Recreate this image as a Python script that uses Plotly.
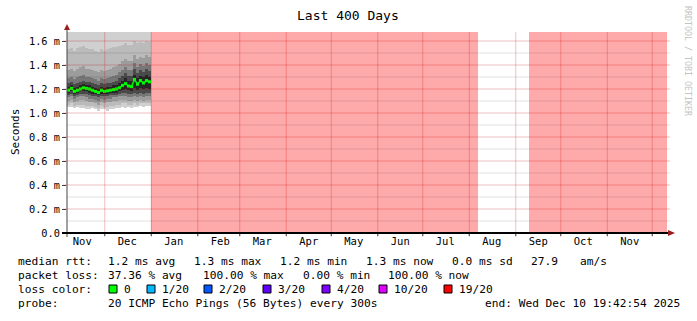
import pandas as pd
import plotly.graph_objects as go

# ---------------- data ----------------
start = pd.Timestamp("2024-11-05 19:42:54")
end = pd.Timestamp("2025-12-10 19:42:54")
y_top = 1.675

# smoke columns: 2-day steps from start (values in ms)
median = [1.19, 1.205, 1.18, 1.19, 1.20, 1.21, 1.205, 1.20, 1.19, 1.18, 1.17, 1.19, 1.18, 1.185,
          1.19, 1.195, 1.20, 1.21, 1.23, 1.245, 1.225, 1.22, 1.28, 1.24, 1.27, 1.25, 1.27, 1.26]
low0 = [1.05, 1.05, 1.04, 1.05, 1.04, 1.04, 1.03, 1.03, 1.04, 1.03, 1.02, 1.03, 1.03, 1.02,
        1.03, 1.03, 1.04, 1.04, 1.05, 1.04, 1.05, 1.04, 1.05, 1.05, 1.06, 1.05, 1.06, 1.06]
high0 = [1.70, 1.70, 1.70, 1.70, 1.70, 1.70, 1.70, 1.70, 1.70, 1.70, 1.70, 1.70, 1.70, 1.70,
         1.70, 1.70, 1.70, 1.70, 1.70, 1.70, 1.70, 1.70, 1.70, 1.70, 1.70, 1.70, 1.70, 1.70]
low1 = [1.07, 1.08, 1.06, 1.07, 1.07, 1.07, 1.06, 1.06, 1.06, 1.05, 1.04, 1.06, 1.05, 1.05,
        1.06, 1.06, 1.07, 1.07, 1.08, 1.08, 1.07, 1.07, 1.08, 1.07, 1.08, 1.08, 1.08, 1.08]
high1 = [1.53, 1.54, 1.52, 1.54, 1.55, 1.56, 1.54, 1.53, 1.53, 1.52, 1.51, 1.53, 1.52, 1.53,
         1.54, 1.55, 1.55, 1.56, 1.57, 1.58, 1.57, 1.57, 1.60, 1.58, 1.59, 1.58, 1.60, 1.59]
low2 = [1.10, 1.11, 1.09, 1.10, 1.11, 1.11, 1.10, 1.09, 1.09, 1.08, 1.07, 1.09, 1.08, 1.09,
        1.09, 1.10, 1.10, 1.11, 1.11, 1.11, 1.10, 1.10, 1.11, 1.10, 1.11, 1.10, 1.11, 1.11]
high2 = [1.36, 1.37, 1.35, 1.37, 1.38, 1.39, 1.37, 1.37, 1.36, 1.35, 1.34, 1.36, 1.35, 1.36,
         1.37, 1.38, 1.39, 1.41, 1.43, 1.45, 1.43, 1.43, 1.48, 1.45, 1.47, 1.46, 1.48, 1.47]
low3 = [1.13, 1.14, 1.12, 1.13, 1.14, 1.14, 1.13, 1.12, 1.12, 1.11, 1.10, 1.12, 1.11, 1.12,
        1.12, 1.13, 1.13, 1.14, 1.14, 1.14, 1.13, 1.13, 1.14, 1.13, 1.14, 1.13, 1.14, 1.14]
high3 = [1.29, 1.30, 1.28, 1.30, 1.31, 1.32, 1.30, 1.30, 1.29, 1.28, 1.27, 1.29, 1.28, 1.29,
         1.30, 1.31, 1.32, 1.34, 1.36, 1.38, 1.36, 1.36, 1.42, 1.38, 1.41, 1.39, 1.42, 1.40]
low4 = [1.15, 1.16, 1.14, 1.15, 1.16, 1.16, 1.16, 1.15, 1.14, 1.14, 1.13, 1.14, 1.14, 1.14,
        1.15, 1.15, 1.15, 1.16, 1.17, 1.17, 1.16, 1.16, 1.17, 1.16, 1.17, 1.16, 1.17, 1.17]
high4 = [1.25, 1.26, 1.24, 1.25, 1.26, 1.27, 1.26, 1.26, 1.25, 1.24, 1.23, 1.25, 1.24, 1.25,
         1.25, 1.26, 1.27, 1.29, 1.31, 1.33, 1.31, 1.31, 1.37, 1.33, 1.36, 1.34, 1.37, 1.35]
low5 = [1.17, 1.18, 1.16, 1.17, 1.18, 1.18, 1.18, 1.17, 1.16, 1.16, 1.15, 1.16, 1.16, 1.16,
        1.17, 1.17, 1.17, 1.18, 1.19, 1.20, 1.19, 1.18, 1.21, 1.19, 1.21, 1.20, 1.21, 1.20]
high5 = [1.22, 1.23, 1.21, 1.22, 1.23, 1.24, 1.23, 1.23, 1.22, 1.21, 1.20, 1.22, 1.21, 1.22,
         1.22, 1.23, 1.23, 1.25, 1.27, 1.29, 1.27, 1.27, 1.32, 1.29, 1.31, 1.30, 1.32, 1.30]
smoke_colors = ["#d0d0d0", "#bbbbbb", "#9c9c9c", "#777777", "#4a4a4a", "#262626"]

# 100 % loss periods
loss_start = ["2024-12-31 22:00", "2025-09-09 18:00"]
loss_end = ["2025-08-06 12:00", "2025-12-10 19:42:54"]

month_starts = ["2024-11-01", "2024-12-01", "2025-01-01", "2025-02-01", "2025-03-01", "2025-04-01",
                "2025-05-01", "2025-06-01", "2025-07-01", "2025-08-01", "2025-09-01", "2025-10-01",
                "2025-11-01", "2025-12-01"]
month_names = ["Nov", "Dec", "Jan", "Feb", "Mar", "Apr", "May", "Jun", "Jul", "Aug", "Sep", "Oct",
               "Nov", "Dec"]
y_ticks = [0.0, 0.2, 0.4, 0.6, 0.8, 1.0, 1.2, 1.4, 1.6]
y_ticktext = ["0.0", "0.2 m", "0.4 m", "0.6 m", "0.8 m", "1.0 m", "1.2 m", "1.4 m", "1.6 m"]
y_minor = [0.1, 0.3, 0.5, 0.7, 0.9, 1.1, 1.3, 1.5]

loss_labels = ["0", "1/20", "2/20", "3/20", "4/20", "10/20", "19/20"]
loss_colors = ["#00ff00", "#00b8ff", "#0059ff", "#5e00ff", "#7e00ff", "#dd00ff", "#ff0000"]

# ---------------- geometry (pixels) ----------------
W, H = 697, 321
L, T, PW, PH = 67, 32, 600, 201


def PX(px):
    return (px - L) / PW


def PY(py):
    return (T + PH - py) / PH


FONT = "DejaVu Sans Mono"
day = pd.Timedelta(days=1)
step = 2 * day
centers = [start + step * k + day for k in range(len(median))]
col_ms = step.total_seconds() * 1000

fig = go.Figure()

# loss areas
for s, e in zip(loss_start, loss_end):
    s, e = pd.Timestamp(s), pd.Timestamp(e)
    fig.add_trace(go.Bar(x=[s + (e - s) / 2], y=[y_top], base=[0],
                         width=[(e - s).total_seconds() * 1000],
                         marker=dict(color="#ffaaaa", line=dict(width=0)),
                         hoverinfo="skip", showlegend=False))

# smoke layers
layers = [(low0, high0), (low1, high1), (low2, high2), (low3, high3), (low4, high4), (low5, high5)]
for (lo, hi), c in zip(layers, smoke_colors):
    fig.add_trace(go.Bar(x=centers, y=[h - l for l, h in zip(lo, hi)], base=lo,
                         width=[col_ms] * len(lo),
                         marker=dict(color=c, line=dict(width=0)),
                         hoverinfo="skip", showlegend=False))

# median
fig.add_trace(go.Scatter(x=centers, y=median, mode="lines+markers",
                         line=dict(color="#00ee00", width=1.5),
                         marker=dict(color="#00ff00", size=3, symbol="square"),
                         showlegend=False, hoverinfo="skip"))

shapes = []
# horizontal grid
for v in y_minor:
    shapes.append(dict(type="line", xref="paper", yref="y", x0=0, x1=PX(670), y0=v, y1=v,
                       line=dict(color="rgba(0,0,0,0.12)", width=1), layer="above"))
for v in y_ticks[1:]:
    shapes.append(dict(type="line", xref="paper", yref="y", x0=PX(63), x1=PX(670), y0=v, y1=v,
                       line=dict(color="rgba(200,0,0,0.25)", width=1), layer="above"))
# vertical month grid + ticks
for m in month_starts:
    t = pd.Timestamp(m)
    if start < t < end:
        shapes.append(dict(type="line", xref="x", yref="paper", x0=t, x1=t, y0=PY(237), y1=1,
                           line=dict(color="rgba(200,0,0,0.25)", width=1), layer="above"))
        shapes.append(dict(type="line", xref="x", yref="paper", x0=t, x1=t, y0=PY(236), y1=0,
                           line=dict(color="#444444", width=1), layer="above"))
# axes
shapes.append(dict(type="line", xref="paper", yref="paper", x0=0, x1=0, y0=PY(237), y1=PY(27),
                   line=dict(color="#444444", width=1), layer="above"))
shapes.append(dict(type="line", xref="paper", yref="paper", x0=PX(62), x1=PX(672), y0=0, y1=0,
                   line=dict(color="#000000", width=2), layer="above"))
# arrows
shapes.append(dict(type="path", xref="paper", yref="paper",
                   path=f"M {PX(64)},{PY(30)} L {PX(70)},{PY(30)} L {PX(67)},{PY(24)} Z",
                   fillcolor="#9b1c1c", line=dict(width=0), layer="above"))
shapes.append(dict(type="path", xref="paper", yref="paper",
                   path=f"M {PX(668)},{PY(230)} L {PX(668)},{PY(236)} L {PX(675)},{PY(233)} Z",
                   fillcolor="#9b1c1c", line=dict(width=0), layer="above"))

annotations = []


def txt(s, x, y, size=11.2, anchor="left", color="#000000", angle=0):
    annotations.append(dict(text=s, xref="paper", yref="paper", x=PX(x), y=PY(y),
                            xanchor=anchor, yanchor="middle", showarrow=False,
                            textangle=angle, borderpad=0,
                            font=dict(family=FONT, size=size, color=color)))


txt("Last 400 Days", 348, 15, size=13, anchor="center")
txt("Seconds", 15, 132, size=11, anchor="center", angle=-90)
txt("RRDTOOL / TOBI OETIKER", 688, 61, size=8.3, anchor="center", color="#c4c4c4", angle=90)

row1 = [("median rtt:", 17), ("1.2 ms avg", 107), ("1.3 ms max", 193), ("1.2 ms min", 279),
        ("1.3 ms now", 365), ("0.0 ms sd", 451), ("27.9", 530), ("am/s", 579)]
row2 = [("packet loss:", 17), ("37.36 % avg", 107), ("100.00 % max", 202), ("0.00 % min", 302),
        ("100.00 % now", 387)]
for s, x in row1:
    txt(s, x, 261)
for s, x in row2:
    txt(s, x, 275)
txt("loss color:", 17, 289)
sq_x = [109, 147, 204, 263, 322, 379, 444]
for lab, col, x in zip(loss_labels, loss_colors, sq_x):
    shapes.append(dict(type="rect", xref="paper", yref="paper", x0=PX(x), x1=PX(x + 8),
                       y0=PY(293), y1=PY(285), fillcolor=col,
                       line=dict(color="#000000", width=1), layer="above"))
    txt(lab, x + 14, 289)
txt("probe:", 17, 303)
txt("20 ICMP Echo Pings (56 Bytes) every 300s", 107, 303)
txt("end: Wed Dec 10 19:42:54 2025", 681, 303, anchor="right")

label_pos = [pd.Timestamp(m) + pd.Timedelta(days=15) for m in month_starts]
tickvals = [p for p in label_pos if start < p < end]
ticktext = [n for p, n in zip(label_pos, month_names) if start < p < end]

fig.update_layout(
    width=W, height=H,
    margin=dict(l=L, r=W - L - PW, t=T, b=H - T - PH, pad=0),
    paper_bgcolor="white", plot_bgcolor="white",
    barmode="overlay", bargap=0,
    showlegend=False,
    shapes=shapes, annotations=annotations,
    xaxis=dict(type="date", range=[start, end], tickvals=tickvals, ticktext=ticktext,
               showgrid=False, zeroline=False, showline=False, ticks="", fixedrange=True,
               tickfont=dict(family=FONT, size=10.5, color="#000000")),
    yaxis=dict(range=[0, y_top], tickvals=y_ticks, ticktext=y_ticktext, showgrid=False,
               zeroline=False, showline=False, ticks="outside", ticklen=4, tickcolor="#444444",
               tickfont=dict(family=FONT, size=10.3, color="#000000")),
)

fig.write_html("out.html")
